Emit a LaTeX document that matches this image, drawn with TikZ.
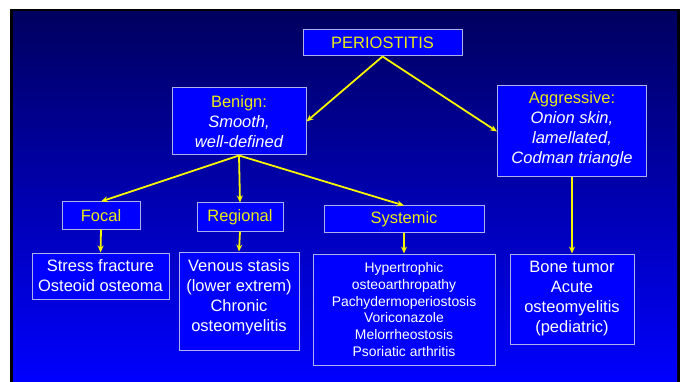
\documentclass[tikz,border=0pt]{standalone}
\usepackage{fontspec}
\setmainfont{Liberation Sans}
\usepackage{xcolor}
\usetikzlibrary{arrows.meta,positioning}
\definecolor{slidetop}{RGB}{0,0,95}
\definecolor{slidebot}{RGB}{0,0,255}
\definecolor{boxline}{RGB}{175,175,235}
\definecolor{headyellow}{RGB}{235,235,20}
\definecolor{linkyellow}{RGB}{245,245,0}

\begin{document}
\begin{tikzpicture}[x=1pt,y=-1pt,
  box/.style={draw=boxline,fill=slidebot,line width=1pt,align=center,inner sep=0pt,
    font=\fontsize{16.5}{20}\selectfont},
  head/.style={box,text=headyellow},
  item/.style={box,text=white},
  small/.style={font=\fontsize{13.9}{16.7}\selectfont},
  link/.style={-{Stealth[length=7pt,width=6pt]},draw=linkyellow,line width=1.8pt}]
 \useasboundingbox (0,0) rectangle (685,382);
 % slide background
 \fill[black] (10,9) rectangle (680,382);
 \shade[top color=slidetop,bottom color=slidebot] (13,12) rectangle (677,382);
 % top levels
 \node[head,minimum width=159pt,minimum height=26pt] (root) at (382.5,43) {PERIOSTITIS};
 \node[head,minimum width=134pt,minimum height=67pt] (benign) at (239,121.5)
   {Benign:\\\textcolor{white}{\itshape Smooth,}\\\textcolor{white}{\itshape well-defined}};
 \node[head,minimum width=149pt,minimum height=91pt] (aggr) at (572,131.5)
   {Aggressive:\\\textcolor{white}{\itshape Onion skin,}\\\textcolor{white}{\itshape lamellated,}\\\textcolor{white}{\itshape Codman triangle}\\[-13pt]};
 \draw[link] (root.south) -- (benign.east);
 \draw[link] (root.south) -- (aggr.west);
 % benign groups
 \node[head,minimum width=78pt,minimum height=27pt] (focal) at (101,215.5) {Focal};
 \node[head,minimum width=86pt,minimum height=28pt] (regional) at (240,217) {Regional};
 \node[head,minimum width=160pt,minimum height=26pt] (systemic) at (404,219) {Systemic};
 \draw[link] (benign.south) -- (focal.north);
 \draw[link] (benign.south) -- (regional.north);
 \draw[link] (benign.south) -- (systemic.north);
 % causes
 \node[item,minimum width=137pt,minimum height=46pt] (focalx) at (100.5,276)
   {Stress fracture\\Osteoid osteoma};
 \node[item,minimum width=120pt,minimum height=98pt] (regionalx) at (239,301)
   {Venous stasis\\(lower extrem)\\Chronic\\osteomyelitis\\[-10pt]};
 \node[item,small,minimum width=182pt,minimum height=111pt] (systemicx) at (404,309.5)
   {Hypertrophic\\osteoarthropathy\\Pachydermoperiostosis\\Voriconazole\\Melorrheostosis\\Psoriatic arthritis};
 \node[item,minimum width=124pt,minimum height=90pt] (aggrx) at (572,299)
   {Bone tumor\\Acute\\osteomyelitis\\(pediatric)\\[-15pt]};
 \draw[link] (focal.south) -- (focalx.north);
 \draw[link] (regional.south) -- (regionalx.north);
 \draw[link] (systemic.south) -- (systemicx.north);
 \draw[link] (aggr.south) -- (aggrx.north);
\end{tikzpicture}
\end{document}
